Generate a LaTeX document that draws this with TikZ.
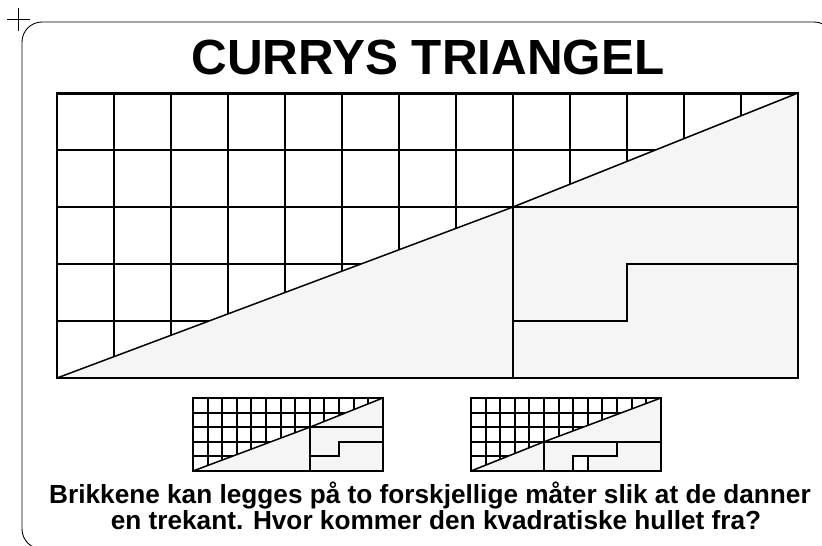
\documentclass[tikz,border=0pt]{standalone}
\usepackage{fontspec}
\setmainfont{Liberation Sans}
\usetikzlibrary{positioning}
\definecolor{ink}{HTML}{000000}
\definecolor{pieceFill}{HTML}{F5F5F5}
\tikzset{
  frame/.style={draw=ink,line width=0.45pt},
  cellgrid/.style={draw=ink,line width=1.05pt,step=1},
  piece/.style={fill=pieceFill},
  hyp/.style={draw=ink,line width=0.75pt},
  cut/.style={draw=ink,line width=1.05pt},
  ttl/.style={font=\fontsize{24.7}{29}\selectfont\bfseries,text=ink,inner sep=0pt,anchor=base},
  qtext/.style={font=\fontsize{13.1}{16}\selectfont\bfseries,text=ink,inner sep=0pt,anchor=base},
}

\begin{document}
\begin{tikzpicture}[x=0.5pt,y=0.5pt]
\useasboundingbox (0,0) rectangle (822,545);

% ---------- card ----------
\draw[frame,rounded corners=10pt] (22,523) rectangle (834,-4);
\draw[frame] (7,525.7) -- (30,525.7);
\draw[frame] (18.5,537) -- (18.5,514.3);

% ---------- title ----------
\node[ttl] (title) at (428,470) {CURRYS TRIANGEL};

% ================= BIG TRIANGLE =================
\begin{scope}[shift={(57,167)},scale=57]
  \draw[cellgrid] (0,0) grid (13,5);
  \fill[piece] (0,0) -- (8,3) -- (13,5) -- (13,0) -- cycle;
  \draw[hyp] (0,0) -- (8,3) -- (13,5);
  \draw[cut] (8,0) -- (8,3) -- (13,3);
  \draw[cut] (8,1) -- (10,1) -- (10,2) -- (13,2);
  \draw[cut] (0,0) rectangle (13,5);
\end{scope}

% ================= SMALL: FIRST WAY =================
\begin{scope}[shift={(193,74)},scale=14.6]
  \draw[cellgrid] (0,0) grid (13,5);
  \fill[piece] (0,0) -- (8,3) -- (13,5) -- (13,0) -- cycle;
  \draw[hyp] (0,0) -- (8,3) -- (13,5);
  \draw[cut] (8,0) -- (8,3) -- (13,3);
  \draw[cut] (8,1) -- (10,1) -- (10,2) -- (13,2);
  \draw[cut] (0,0) rectangle (13,5);
\end{scope}

% ================= SMALL: SECOND WAY (with hole) =================
\begin{scope}[shift={(471,74)},scale=14.6]
  \draw[cellgrid] (0,0) grid (13,5);
  \fill[piece] (0,0) -- (5,2) -- (13,5) -- (13,0) -- cycle;
  \fill[white] (7,0) rectangle (8,1);
  \draw[hyp] (0,0) -- (5,2) -- (13,5);
  \draw[cut] (5,0) -- (5,2) -- (13,2);
  \draw[cut] (7,0) -- (7,1) -- (10,1) -- (10,2);
  \draw[cut] (8,0) -- (8,1);
  \draw[cut] (0,0) rectangle (13,5);
\end{scope}

% ---------- question ----------
\node[qtext] (q1) at (430,41.7) {Brikkene kan legges på to forskjellige måter slik at de danner};
\node[qtext] (q2) at (436,16) {en trekant. Hvor kommer den kvadratiske hullet fra?};

\end{tikzpicture}
\end{document}
